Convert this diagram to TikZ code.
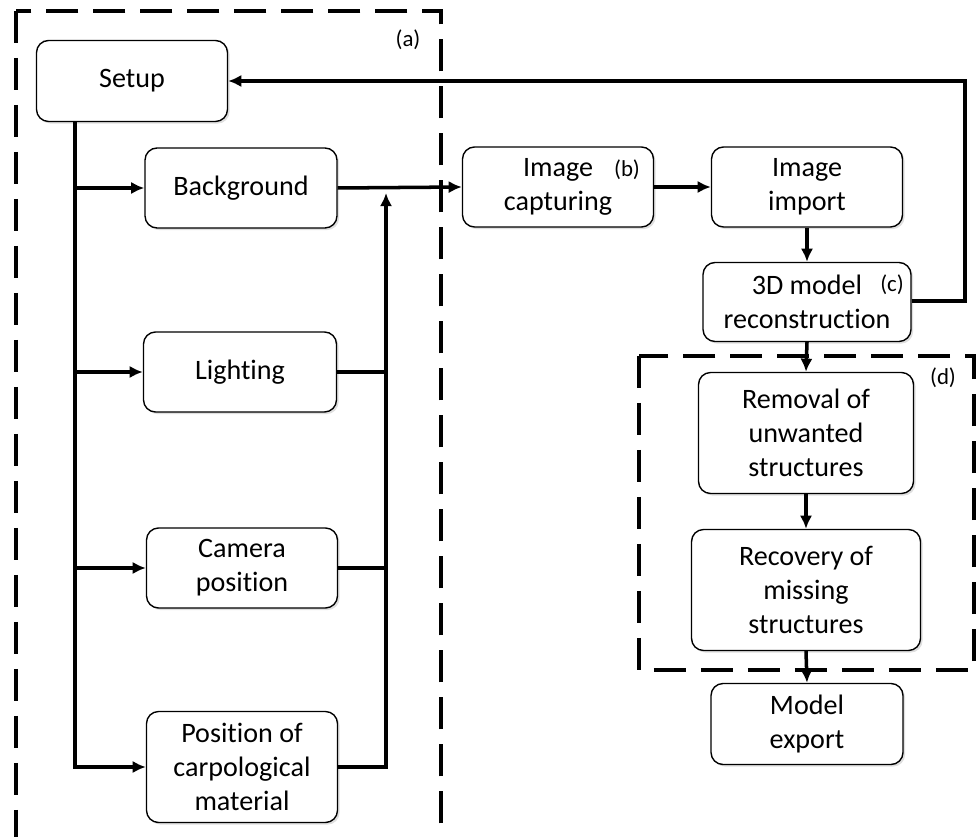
\documentclass[tikz,border=0pt]{standalone}
\usepackage{fontspec}
\setmainfont{Carlito}[Ligatures=NoCommon]
\usetikzlibrary{arrows.meta,positioning,shadows}

\begin{document}
\begin{tikzpicture}[x=0.02cm,y=-0.02cm,
    stepbox/.style={draw,line width=0.8pt,rounded corners=0.24cm,fill=white,
        drop shadow={opacity=0.25,shadow xshift=1.2pt,shadow yshift=-1.2pt},
        inner sep=0pt,align=center,font=\fontsize{16}{19.5}\selectfont},
    conn/.style={line width=2pt},
    arr/.style={conn,-{Latex[length=7.5pt,width=7pt]}},
    groupbox/.style={line width=2.4pt,dash pattern=on 0.64cm off 0.3cm},
    tag/.style={font=\fontsize{13}{15}\selectfont}]
                    \useasboundingbox (0,0) rectangle (977,837);

                    % Drawing group boxes (a) and (d)
                    \draw [groupbox] (16,11) rectangle (441,839);
                    \draw [groupbox] (639,356) rectangle (974,670);

                    % Marking steps of the setup
                    \node [stepbox,minimum width=3.82cm,minimum height=1.62cm] (setup) at (132,81) {Setup};
                    \node [stepbox,minimum width=3.84cm,minimum height=1.6cm] (background) at (241,188) {Background};
                    \node [stepbox,minimum width=3.86cm,minimum height=1.6cm] (lighting) at (240,372) {Lighting};
                    \node [stepbox,minimum width=3.82cm,minimum height=1.6cm] (camera) at (242,568) {Camera\\position};
                    \node [stepbox,minimum width=3.82cm,minimum height=2.22cm] (position) at (242,767) {Position of\\carpological\\material};

                    % Marking steps of the model
                    \node [stepbox,minimum width=3.82cm,minimum height=1.6cm] (capturing) at (558,187) {Image\\capturing};
                    \node [stepbox,minimum width=3.82cm,minimum height=1.6cm] (import) at (807,187) {Image\\import};
                    \node [stepbox,minimum width=4.16cm,minimum height=1.58cm] (recon) at (807,302) {3D model\\reconstruction};
                    \node [stepbox,minimum width=4.3cm,minimum height=2.42cm] (removal) at (806,433) {Removal of\\unwanted\\structures};
                    \node [stepbox,minimum width=4.58cm,minimum height=2.42cm] (recovery) at (806,590) {Recovery of\\missing\\structures};
                    \node [stepbox,minimum width=3.84cm,minimum height=1.62cm] (export) at (807,724) {Model\\export};

                    % Marking labels
                    \node [tag] (taga) at (408,40) {(a)};
                    \node [tag] (tagb) at (627,170) {(b)};
                    \node [tag] (tagc) at (892,285) {(c)};
                    \node [tag] (tagd) at (943,378) {(d)};

                    % Drawing the trunk from Setup
                    \coordinate (trunk) at (75,767);
                    \draw [arr] (setup.south -| trunk) |- (position.west);
                    \draw [arr] (background.west -| trunk) -- (background.west);
                    \draw [arr] (lighting.west -| trunk) -- (lighting.west);
                    \draw [arr] (camera.west -| trunk) -- (camera.west);

                    % Drawing the bus back to Background
                    \coordinate (bus) at (386,193);
                    \draw [arr] (position.east) -| (bus);
                    \draw [conn] (lighting.east) -- (lighting.east -| bus);
                    \draw [conn] (camera.east) -- (camera.east -| bus);

                    % Drawing the main chain
                    \draw [arr] (background.east) -- (capturing.west);
                    \draw [arr] (capturing.east) -- (import.west);
                    \draw [arr] (import.south) -- (recon.north);
                    \draw [arr] (recon.south) -- (removal.north);
                    \draw [arr] (removal.south) -- (recovery.north);
                    \draw [arr] (recovery.south) -- (export.north);

                    % Drawing the loop back to Setup
                    \coordinate (loop) at (965,301);
                    \draw [arr] (recon.east |- loop) -- (loop) |- (setup.east);
\end{tikzpicture}
\end{document}
